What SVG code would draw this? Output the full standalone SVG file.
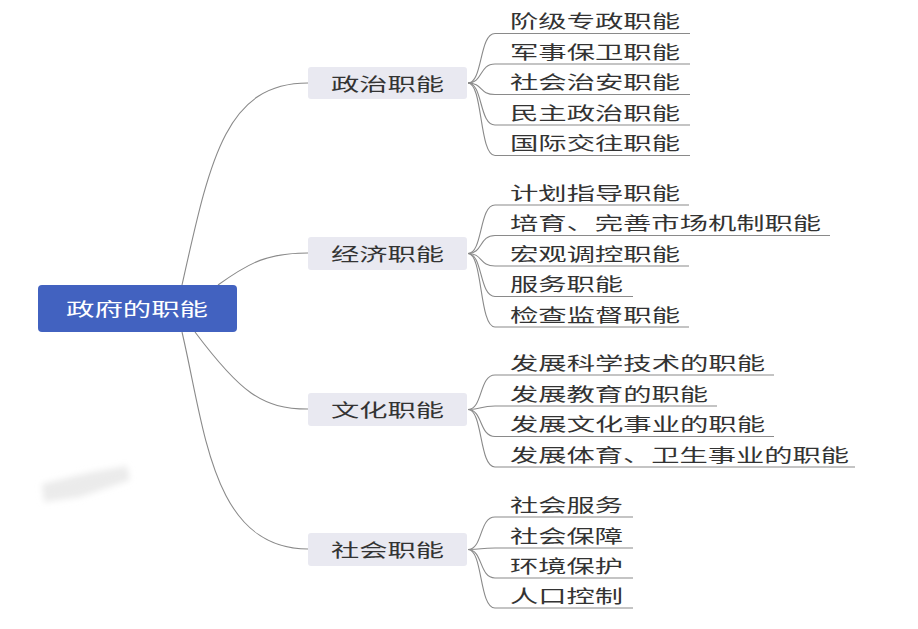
<svg xmlns="http://www.w3.org/2000/svg" width="918" height="629" viewBox="0 0 918 629">
<style>
.t{font-family:"Noto Sans CJK SC","Microsoft YaHei",sans-serif;font-size:18px;fill:#333333}
.rt{font-family:"Noto Sans CJK SC","Microsoft YaHei",sans-serif;font-size:18px;fill:#ffffff}
.root{fill:#4262C0}
.br{fill:#E9E9F1}
.c{fill:none;stroke:#8a8a8a;stroke-width:1.1}
.u{fill:none;stroke:#8a8a8a;stroke-width:1.1}
</style>
<defs>
<filter id="blur" x="-20%" y="-50%" width="140%" height="200%"><feGaussianBlur stdDeviation="3"/></filter>
</defs>
<rect width="918" height="629" fill="#ffffff"/>
<polygon points="42,484 44,502 80,497 130,480 127,466 92,472" fill="#ebebeb" filter="url(#blur)"/>

<g id="connectors">
<path class="c" d="M182,285 C210,160 225,83 308,83"/>
<path class="c" d="M218,285 C250,262 268,253 308,253"/>
<path class="c" d="M195,332 C240,392 262,409 308,409"/>
<path class="c" d="M182,332 C205,430 212,549 308,549"/>

<path class="c" d="M468,83 C483,83 479,33.5 495,33.5"/>
<path class="c" d="M468,83 C483,83 479,64 495,64"/>
<path class="c" d="M468,83 C483,83 479,94.5 495,94.5"/>
<path class="c" d="M468,83 C483,83 479,125 495,125"/>
<path class="c" d="M468,83 C483,83 479,155.5 495,155.5"/>

<path class="c" d="M468,253.5 C483,253.5 479,205 495,205"/>
<path class="c" d="M468,253.5 C483,253.5 479,235.5 495,235.5"/>
<path class="c" d="M468,253.5 C483,253.5 479,266 495,266"/>
<path class="c" d="M468,253.5 C483,253.5 479,296.5 495,296.5"/>
<path class="c" d="M468,253.5 C483,253.5 479,327 495,327"/>

<path class="c" d="M468,409.5 C483,409.5 479,375 495,375"/>
<path class="c" d="M468,409.5 C483,409.5 479,406 495,406"/>
<path class="c" d="M468,409.5 C483,409.5 479,436.5 495,436.5"/>
<path class="c" d="M468,409.5 C483,409.5 479,467 495,467"/>

<path class="c" d="M468,549.5 C483,549.5 479,517 495,517"/>
<path class="c" d="M468,549.5 C483,549.5 479,548 495,548"/>
<path class="c" d="M468,549.5 C483,549.5 479,578 495,578"/>
<path class="c" d="M468,549.5 C483,549.5 479,608 495,608"/>
</g>

<g id="root">
<rect class="root" x="38" y="285" width="199" height="47" rx="4"/>
<text class="rt" x="66" y="316" textLength="142" lengthAdjust="spacingAndGlyphs">政府的职能</text>
</g>

<g id="b-politics">
<rect class="br" x="308" y="67" width="159" height="32" rx="3"/>
<text class="t" x="331" y="90.5" textLength="113" lengthAdjust="spacingAndGlyphs">政治职能</text>
</g>
<g id="b-economy">
<rect class="br" x="308" y="237" width="159" height="33" rx="3"/>
<text class="t" x="331" y="261" textLength="113" lengthAdjust="spacingAndGlyphs">经济职能</text>
</g>
<g id="b-culture">
<rect class="br" x="308" y="393" width="159" height="33" rx="3"/>
<text class="t" x="331" y="417" textLength="113" lengthAdjust="spacingAndGlyphs">文化职能</text>
</g>
<g id="b-society">
<rect class="br" x="308" y="533" width="159" height="33" rx="3"/>
<text class="t" x="331" y="557" textLength="113" lengthAdjust="spacingAndGlyphs">社会职能</text>
</g>

<g id="l-p1"><text class="t" x="510" y="28" textLength="170" lengthAdjust="spacingAndGlyphs">阶级专政职能</text><path class="u" d="M495,33.5 H690"/></g>
<g id="l-p2"><text class="t" x="510" y="58.5" textLength="170" lengthAdjust="spacingAndGlyphs">军事保卫职能</text><path class="u" d="M495,64 H690"/></g>
<g id="l-p3"><text class="t" x="510" y="89" textLength="170" lengthAdjust="spacingAndGlyphs">社会治安职能</text><path class="u" d="M495,94.5 H690"/></g>
<g id="l-p4"><text class="t" x="510" y="119.5" textLength="170" lengthAdjust="spacingAndGlyphs">民主政治职能</text><path class="u" d="M495,125 H690"/></g>
<g id="l-p5"><text class="t" x="510" y="150" textLength="170" lengthAdjust="spacingAndGlyphs">国际交往职能</text><path class="u" d="M495,155.5 H690"/></g>

<g id="l-e1"><text class="t" x="510" y="199.5" textLength="170" lengthAdjust="spacingAndGlyphs">计划指导职能</text><path class="u" d="M495,205 H689"/></g>
<g id="l-e2"><text class="t" x="510" y="230" textLength="311" lengthAdjust="spacingAndGlyphs">培育、完善市场机制职能</text><path class="u" d="M495,235.5 H830"/></g>
<g id="l-e3"><text class="t" x="510" y="260.5" textLength="170" lengthAdjust="spacingAndGlyphs">宏观调控职能</text><path class="u" d="M495,266 H689"/></g>
<g id="l-e4"><text class="t" x="510" y="291" textLength="113" lengthAdjust="spacingAndGlyphs">服务职能</text><path class="u" d="M495,296.5 H633"/></g>
<g id="l-e5"><text class="t" x="510" y="321.5" textLength="170" lengthAdjust="spacingAndGlyphs">检查监督职能</text><path class="u" d="M495,327 H689"/></g>

<g id="l-c1"><text class="t" x="510" y="369.5" textLength="255" lengthAdjust="spacingAndGlyphs">发展科学技术的职能</text><path class="u" d="M495,375 H774"/></g>
<g id="l-c2"><text class="t" x="510" y="400.5" textLength="198" lengthAdjust="spacingAndGlyphs">发展教育的职能</text><path class="u" d="M495,406 H717"/></g>
<g id="l-c3"><text class="t" x="510" y="431" textLength="255" lengthAdjust="spacingAndGlyphs">发展文化事业的职能</text><path class="u" d="M495,436.5 H774"/></g>
<g id="l-c4"><text class="t" x="510" y="461.5" textLength="339" lengthAdjust="spacingAndGlyphs">发展体育、卫生事业的职能</text><path class="u" d="M495,467 H855"/></g>

<g id="l-s1"><text class="t" x="510" y="511.5" textLength="113" lengthAdjust="spacingAndGlyphs">社会服务</text><path class="u" d="M495,517 H633"/></g>
<g id="l-s2"><text class="t" x="510" y="542.5" textLength="113" lengthAdjust="spacingAndGlyphs">社会保障</text><path class="u" d="M495,548 H633"/></g>
<g id="l-s3"><text class="t" x="510" y="572.5" textLength="113" lengthAdjust="spacingAndGlyphs">环境保护</text><path class="u" d="M495,578 H633"/></g>
<g id="l-s4"><text class="t" x="510" y="602.5" textLength="113" lengthAdjust="spacingAndGlyphs">人口控制</text><path class="u" d="M495,608 H633"/></g>
</svg>
